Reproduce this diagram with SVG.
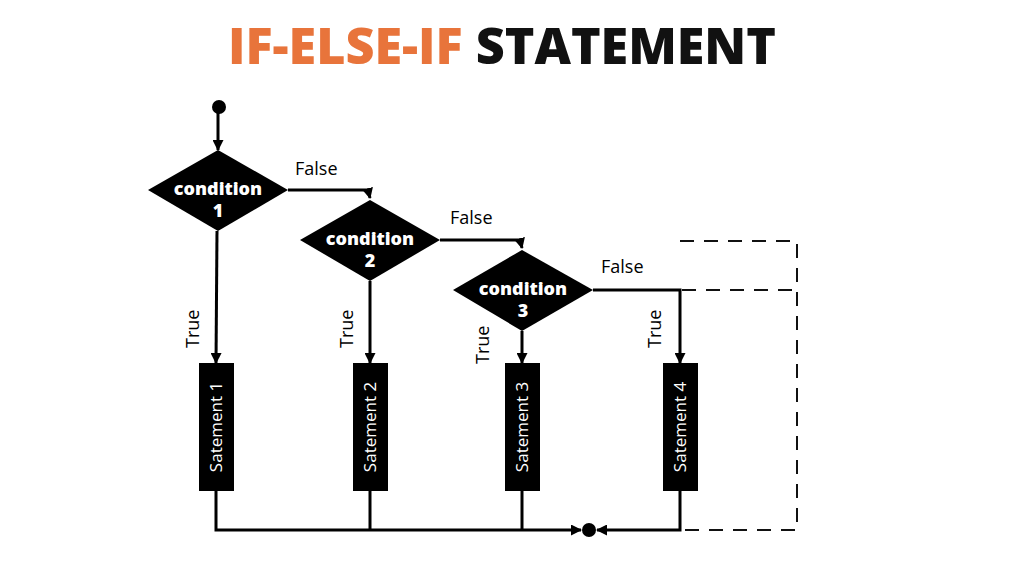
<svg xmlns="http://www.w3.org/2000/svg" width="1024" height="572" viewBox="0 0 1024 572">
<style>
.ln{stroke:#000;stroke-width:3;fill:none}
.ds{stroke:#111;stroke-width:2;fill:none;stroke-dasharray:14 10}
.dia{fill:#000}
.ct{font-family:"Open Sans","Liberation Sans",sans-serif;font-weight:800;font-size:18px;fill:#fff;text-anchor:middle}
.lb{font-family:"Open Sans","Liberation Sans",sans-serif;font-size:18px;fill:#000}
.st{font-family:"Open Sans","Liberation Sans",sans-serif;font-size:17px;fill:#fff;text-anchor:middle}
</style>
<defs><marker id="ah" markerWidth="11" markerHeight="11" refX="10" refY="5.5" orient="auto" markerUnits="userSpaceOnUse" viewBox="0 0 11 11"><path d="M0,0 L11,5.5 L0,11 z" fill="#000"/></marker></defs>
<rect width="1024" height="572" fill="#fff"/>
<text x="502" y="64" text-anchor="middle" font-family="Open Sans,Liberation Sans,sans-serif" font-weight="800" font-size="50" textLength="548" lengthAdjust="spacingAndGlyphs"><tspan fill="#E8743B">IF-ELSE-IF</tspan><tspan fill="#111"> STATEMENT</tspan></text>
<g id="connectors">
<circle cx="219" cy="107" r="7" fill="#000"/>
<line class="ln" x1="218" y1="112" x2="218" y2="150" marker-end="url(#ah)"/>
<path class="ln" d="M288,190 H368 L370,198" marker-end="url(#ah)"/>
<path class="ln" d="M440,240 H520 L522,248" marker-end="url(#ah)"/>
<line class="ln" x1="217" y1="231" x2="216" y2="363" marker-end="url(#ah)"/>
<line class="ln" x1="370" y1="281" x2="370" y2="363" marker-end="url(#ah)"/>
<line class="ln" x1="522" y1="331" x2="522" y2="363" marker-end="url(#ah)"/>
<path class="ln" d="M593,290 H680 V363" marker-end="url(#ah)"/>
<path class="ln" d="M216,491 V530 H581" marker-end="url(#ah)"/>
<line class="ln" x1="370" y1="491" x2="370" y2="530"/>
<line class="ln" x1="522" y1="491" x2="522" y2="530"/>
<path class="ln" d="M680,491 V530 H597" marker-end="url(#ah)"/>
<circle cx="589" cy="530" r="7" fill="#000"/>
<path class="ds" d="M680,241 H797 V530 H682"/>
<line class="ds" x1="682" y1="290" x2="797" y2="290"/>
<text class="lb" x="295" y="175">False</text>
<text class="lb" x="450" y="224">False</text>
<text class="lb" x="601" y="273">False</text>
<text class="lb" transform="translate(199,348) rotate(-90)">True</text>
<text class="lb" transform="translate(353,348) rotate(-90)">True</text>
<text class="lb" transform="translate(489,364) rotate(-90)">True</text>
<text class="lb" transform="translate(661,348) rotate(-90)">True</text>
</g>
<g id="cond1"><polygon class="dia" points="218,150 288,190 218,231 148,190"/><text class="ct" x="218" y="195">condition</text><text class="ct" x="218" y="217">1</text></g>
<g id="cond2"><polygon class="dia" points="370,200 440,240 370,281 300,240"/><text class="ct" x="370" y="245">condition</text><text class="ct" x="370" y="267">2</text></g>
<g id="cond3"><polygon class="dia" points="522,250 593,290 522,331 453,290"/><text class="ct" x="523" y="295">condition</text><text class="ct" x="523" y="317">3</text></g>
<g id="s1"><rect x="199" y="363" width="35" height="128" fill="#000"/><text class="st" transform="translate(222,427) rotate(-90)">Satement 1</text></g>
<g id="s2"><rect x="353" y="363" width="35" height="128" fill="#000"/><text class="st" transform="translate(376,427) rotate(-90)">Satement 2</text></g>
<g id="s3"><rect x="505" y="363" width="35" height="128" fill="#000"/><text class="st" transform="translate(528,427) rotate(-90)">Satement 3</text></g>
<g id="s4"><rect x="663" y="363" width="35" height="128" fill="#000"/><text class="st" transform="translate(686,427) rotate(-90)">Satement 4</text></g>
</svg>
